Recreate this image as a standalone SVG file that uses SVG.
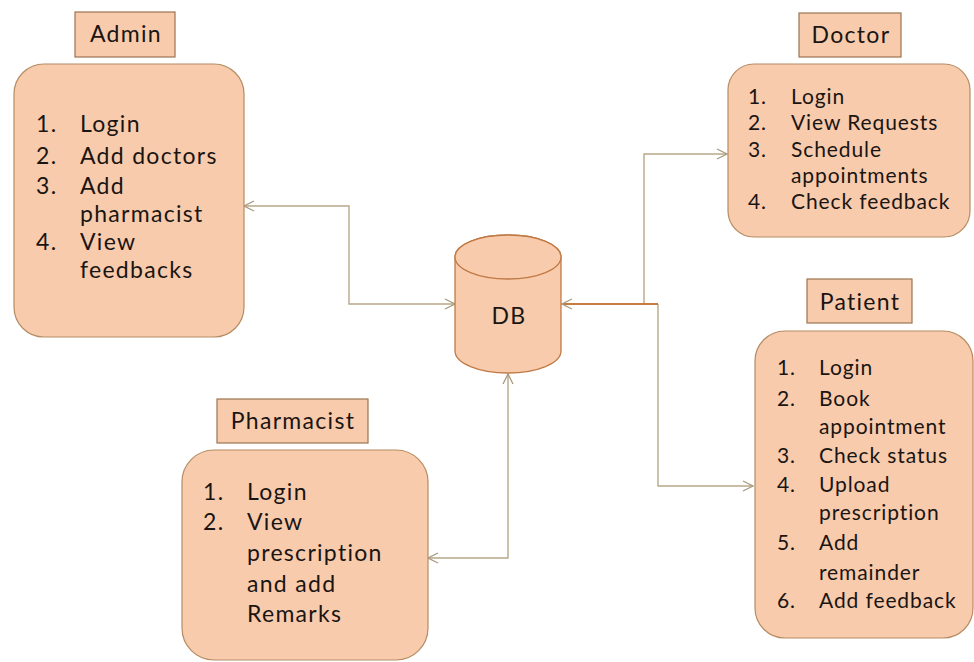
<svg xmlns="http://www.w3.org/2000/svg" width="974" height="662" viewBox="0 0 974 662">
  <style>
    .box { fill: #F8CBAD; stroke: #B58C63; stroke-width: 1.2; }
    .lbl { fill: #F8CBAD; stroke: #9C7450; stroke-width: 1.2; }
    .t { font-family: Lato, "Liberation Sans", sans-serif; fill: #1a1512; }
    .tl { font-size: 23px; text-anchor: middle; letter-spacing: 1.3px; }
    .big { font-size: 23px; letter-spacing: 1.3px; }
    .sm { font-size: 21px; letter-spacing: 0.9px; }
    .conn { fill: none; stroke: #B8A889; stroke-width: 1.4; }
    .orange { fill: none; stroke: #C97A3F; stroke-width: 1.8; }
    .db { fill: #F8CBAD; stroke: #C07A45; stroke-width: 1.3; }
  </style>
  <defs>
    <marker id="arr" viewBox="0 0 12 12" refX="11" refY="6" markerWidth="12" markerHeight="12" markerUnits="userSpaceOnUse" orient="auto-start-reverse">
      <path d="M1,1 L11,6 L1,11" fill="none" stroke="#A89A80" stroke-width="1.3"/>
    </marker>
  </defs>
  <rect width="974" height="662" fill="#ffffff"/>

  <g id="connectors">
    <path class="conn" d="M244,206 H349 V304 H455" marker-start="url(#arr)" marker-end="url(#arr)"/>
    <path class="conn" d="M428,558 H508 V374" marker-start="url(#arr)" marker-end="url(#arr)"/>
    <path class="conn" d="M644,304 V154 H727" marker-end="url(#arr)"/>
    <path class="conn" d="M658,304 V486 H753" marker-end="url(#arr)"/>
    <path class="orange" d="M658,304 H562" marker-end="url(#arr)"/>
  </g>

  <g id="admin">
    <rect class="lbl" x="75" y="12" width="100" height="45"/>
    <text class="t tl" x="126" y="42">Admin</text>
    <rect class="box" x="14" y="64" width="230" height="273" rx="30" ry="30"/>
    <g class="t big">
      <text x="36" y="132">1.</text><text x="80" y="132">Login</text>
      <text x="36" y="164">2.</text><text x="80" y="164">Add doctors</text>
      <text x="36" y="194">3.</text><text x="80" y="194">Add</text>
      <text x="80" y="222">pharmacist</text>
      <text x="36" y="250">4.</text><text x="80" y="250">View</text>
      <text x="80" y="278">feedbacks</text>
    </g>
  </g>

  <g id="doctor">
    <rect class="lbl" x="799" y="13" width="102" height="44"/>
    <text class="t tl" x="851" y="43">Doctor</text>
    <rect class="box" x="728" y="64" width="242" height="173" rx="26" ry="26"/>
    <g class="t sm">
      <text x="748" y="104">1.</text><text x="791" y="104">Login</text>
      <text x="748" y="130">2.</text><text x="791" y="130">View Requests</text>
      <text x="748" y="157">3.</text><text x="791" y="157">Schedule</text>
      <text x="791" y="183">appointments</text>
      <text x="748" y="209">4.</text><text x="791" y="209">Check feedback</text>
    </g>
  </g>

  <g id="db">
    <path class="db" d="M455,257 V351 A53,22 0 0 0 561,351 V257 A53,22 0 0 0 455,257 Z"/>
    <ellipse class="db" cx="508" cy="257" rx="53" ry="22"/>
    <text class="t tl" x="509" y="324">DB</text>
  </g>

  <g id="patient">
    <rect class="lbl" x="807" y="279" width="105" height="44"/>
    <text class="t tl" x="860" y="310">Patient</text>
    <rect class="box" x="755" y="331" width="218" height="307" rx="30" ry="30"/>
    <g class="t sm">
      <text x="777" y="375">1.</text><text x="819" y="375">Login</text>
      <text x="777" y="406">2.</text><text x="819" y="406">Book</text>
      <text x="819" y="434">appointment</text>
      <text x="777" y="463">3.</text><text x="819" y="463">Check status</text>
      <text x="777" y="492">4.</text><text x="819" y="492">Upload</text>
      <text x="819" y="520">prescription</text>
      <text x="777" y="550">5.</text><text x="819" y="550">Add</text>
      <text x="819" y="580">remainder</text>
      <text x="777" y="608">6.</text><text x="819" y="608">Add feedback</text>
    </g>
  </g>

  <g id="pharmacist">
    <rect class="lbl" x="217" y="399" width="151" height="44"/>
    <text class="t tl" x="293" y="429">Pharmacist</text>
    <rect class="box" x="182" y="450" width="246" height="210" rx="32" ry="32"/>
    <g class="t big">
      <text x="203" y="500">1.</text><text x="247" y="500">Login</text>
      <text x="203" y="530">2.</text><text x="247" y="530">View</text>
      <text x="247" y="561">prescription</text>
      <text x="247" y="592">and add</text>
      <text x="247" y="622">Remarks</text>
    </g>
  </g>
</svg>
